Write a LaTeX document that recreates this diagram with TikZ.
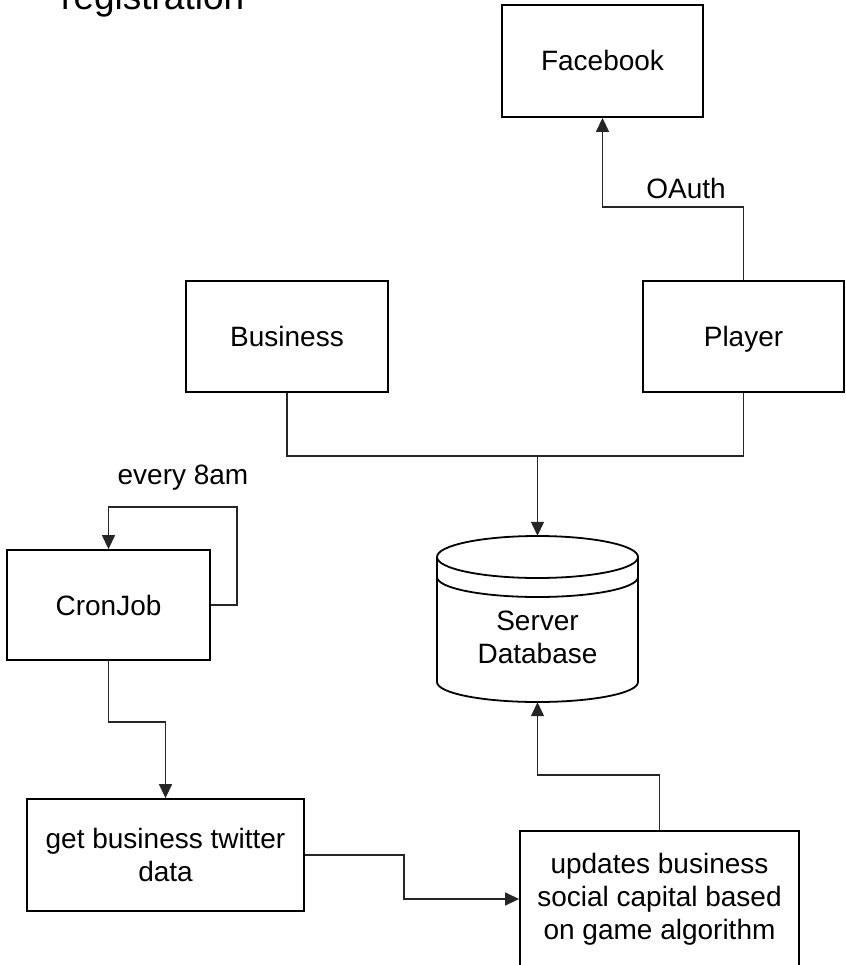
\documentclass[tikz,border=0pt]{standalone}
\usepackage{fontspec}
\setmainfont{Liberation Sans}
\usetikzlibrary{arrows.meta}
\begin{document}
\begin{tikzpicture}[x=1pt,y=-1pt,
  box/.style={draw=black, line width=1.8pt, rectangle, inner sep=0pt, align=center,
    font=\fontsize{28}{33}\selectfont},
  oneline/.style={text height=20pt, text depth=0pt},
  conn/.style={draw=black!85, line width=1.3pt},
  arr/.style={conn, -{Triangle[length=14pt,width=13pt]}},
  lbl/.style={font=\fontsize{28}{33}\selectfont, inner sep=0pt}]
\useasboundingbox (0,0) rectangle (845,965);
\fill[white] (0,0) rectangle (845,965);

\node[anchor=base west, inner sep=0pt, font=\fontsize{37}{40}\selectfont] (reg) at (61,10) {registration};

\node[box, oneline, minimum width=201pt, minimum height=112pt] (fb) at (602.5,61) {Facebook};
\node[box, oneline, minimum width=202pt, minimum height=111pt] (biz) at (287,336.5) {Business};
\node[box, oneline, minimum width=201pt, minimum height=111pt] (player) at (743.5,336.5) {Player};
\node[box, oneline, minimum width=203pt, minimum height=110pt] (cron) at (108.5,605) {CronJob};
\node[box, minimum width=277pt, minimum height=112pt] (get) at (165.5,855) {get business twitter\\data};
\node[box, minimum width=279pt, minimum height=136pt] (upd) at (659.5,899) {updates business\\social capital based\\on game algorithm};

% database (datastore cylinder)
\node[inner sep=0pt, minimum width=201pt, minimum height=166pt] (db) at (537.5,619) {};
\begin{scope}[line width=1.8pt]
  \draw (437,557) -- (437,682);
  \draw (638,557) -- (638,682);
  \draw (537.5,557) ellipse [x radius=100.5pt, y radius=21pt];
  \draw (437,577) arc [start angle=180, end angle=360, x radius=100.5pt, y radius=20pt];
  \draw (437,682) arc [start angle=180, end angle=360, x radius=100.5pt, y radius=20pt];
\end{scope}
\node[lbl, align=center] (dbtext) at (537.5,637) {Server\\Database};

% connectors
\coordinate (oa) at (743.5,207);
\draw[arr] (player.north) -- (oa) -| (fb.south);
\node[lbl] (oauth) at (686,188) {OAuth};

\coordinate (j) at (537.5,456);
\draw[conn] (biz.south) |- (j);
\draw[conn] (player.south) |- (j);
\draw[arr] (j) -- (db.north);

\coordinate (loopR) at (237,507);
\draw[arr] (cron.east) -| (loopR) -| (cron.north);
\node[lbl] (every) at (183,478) {every 8am};

\coordinate (c1) at (165.5,722);
\draw[arr] (cron.south) |- (c1) -- (get.north);

\coordinate (c2) at (404,876.5);
\draw[arr] (get.east) -| (c2) |- (upd.west);

\coordinate (c3) at (598,775);
\draw[arr] (upd.north) |- (c3) -| (db.south);
\end{tikzpicture}
\end{document}
